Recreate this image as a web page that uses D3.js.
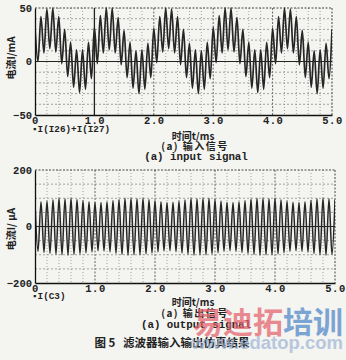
<!DOCTYPE html>
<html><head><meta charset="utf-8">
<script src="https://cdn.jsdelivr.net/npm/d3@7"></script>
<style>body{margin:0;background:#f4f4f1}svg{display:block}</style>
</head><body><svg id="c" width="346" height="360"></svg>
<script>
// ---- data ----
// extrema of the input signal every 0.05 ms (peak, trough, ...), t = 0 .. 5 ms
const inputValues = [
  32, 0, 42, 8, 49, 12, 50, 9, 42, -2, 30, -14, 18, -24, 11, -29, 11, -26, 18, -16,
  32, -2, 43, 8, 50, 11, 50, 8, 41, -3, 29, -15, 18, -25, 10, -30, 11, -26, 17, -15,
  31, -1, 42, 9, 50, 12, 49, 8, 42, -3, 30, -15, 17, -25, 11, -30, 10, -26, 18, -16,
  32, -1, 43, 8, 50, 11, 50, 9, 41, -2, 30, -14, 18, -25, 11, -29, 11, -26, 18, -15,
  31, -2, 42, 8, 50, 12, 49, 8, 42, -3, 29, -15, 18, -24, 10, -30, 11, -25, 17, -16,
  30
];
// extrema of the output signal every 0.05 ms
const outputValues = [
  84, -88, 88, -92, 90, -95, 95, -98, 100, -100, 98, -101, 100, -99, 96, -97, 92, -93, 88, -90,
  86, -86, 85, -87, 88, -90, 92, -95, 96, -99, 100, -101, 100, -100, 98, -100, 100, -97, 96, -94,
  92, -90, 88, -87, 85, -86, 86, -89, 90, -94, 95, -98, 100, -101, 98, -100, 100, -100, 100, -97,
  96, -93, 90, -88, 86, -86, 85, -88, 88, -92, 92, -96, 97, -99, 100, -101, 100, -100, 98, -100,
  100, -97, 95, -93, 90, -88, 86, -86, 85, -88, 88, -91, 93, -96, 98, -100, 100, -101, 98, -99,
  95
];
const sampleStep = 0.05;
const xTicks = [0, 1, 2, 3, 4, 5];
const xTickLabels = ["0", "1.0", "2.0", "3.0", "4.0", "5.0"];
const xMinor = [0.2,0.4,0.6,0.8,1.2,1.4,1.6,1.8,2.2,2.4,2.6,2.8,3.2,3.4,3.6,3.8,4.2,4.4,4.6,4.8];
const topYTicks = [-50, 0, 50];
const topYMinor = [-40,-30,-20,-10,10,20,30,40];
const botYTicks = [-200, 0, 200];
const botYMinor = [-150,-100,-50,50,100,150];

const svg = d3.select("#c");
const monoFont = "'Liberation Mono','DejaVu Sans Mono',monospace";
const cjkFont = "'Noto Sans CJK SC','Noto Sans CJK JP',sans-serif";

function panel(o) {
  const x = d3.scaleLinear().domain([0, 5]).range([o.x0, o.x1]);
  const y = d3.scaleLinear().domain(o.yDomain).range([o.yBot, o.yTop]);
  const g = svg.append("g");
  // minor verticals
  g.selectAll(null).data(xMinor).join("line")
    .attr("x1", d => x(d)).attr("x2", d => x(d)).attr("y1", o.yTop).attr("y2", o.yBot)
    .attr("stroke", "#8d8d8d").attr("stroke-width", 0.8).attr("stroke-dasharray", "1,2");
  // major verticals
  g.selectAll(null).data([1,2,3,4]).join("line")
    .attr("x1", d => x(d)).attr("x2", d => x(d)).attr("y1", o.yTop).attr("y2", o.yBot)
    .attr("stroke", d => (o.solidOne && d === 1) ? "#222" : "#555")
    .attr("stroke-width", d => (o.solidOne && d === 1) ? 1.3 : 0.9)
    .attr("stroke-dasharray", d => (o.solidOne && d === 1) ? null : "2,1.5");
  // minor horizontals
  g.selectAll(null).data(o.yMinor).join("line")
    .attr("x1", o.x0).attr("x2", o.x1).attr("y1", d => y(d)).attr("y2", d => y(d))
    .attr("stroke", "#8d8d8d").attr("stroke-width", 0.8).attr("stroke-dasharray", "2,2");
  // top & right borders dashed
  g.append("line").attr("x1", o.x0).attr("x2", o.x1).attr("y1", o.yTop).attr("y2", o.yTop)
    .attr("stroke", "#444").attr("stroke-width", 1).attr("stroke-dasharray", "2,1.5");
  g.append("line").attr("x1", o.x1).attr("x2", o.x1).attr("y1", o.yTop).attr("y2", o.yBot)
    .attr("stroke", "#444").attr("stroke-width", 1).attr("stroke-dasharray", "2,1.5");
  // zero line
  g.append("line").attr("x1", o.x0).attr("x2", o.x1).attr("y1", y(0)).attr("y2", y(0))
    .attr("stroke", "#222").attr("stroke-width", 1.1);

  // waveform
  const clipId = "clip" + o.id;
  svg.append("clipPath").attr("id", clipId).append("rect")
    .attr("x", o.x0).attr("y", o.yTop - 1).attr("width", o.x1 - o.x0).attr("height", o.yBot - o.yTop + 2);
  const line = d3.line().x((d, i) => x(i * sampleStep)).y(d => y(d)).curve(d3.curveMonotoneX);
  g.append("path").datum(o.values).attr("d", line).attr("fill", "none")
    .attr("stroke", "#262626").attr("stroke-width", o.lw).attr("clip-path", `url(#${clipId})`);

  // axes
  const ax = d3.axisBottom(x).tickValues(xTicks).tickSize(0).tickPadding(3)
    .tickFormat((d, i) => xTickLabels[i]);
  const axg = g.append("g").attr("transform", `translate(0,${o.yBot})`).call(ax);
  axg.select(".domain").attr("stroke", "#111").attr("stroke-width", 1.3);
  axg.selectAll("text").attr("font-family", monoFont).attr("font-weight", "bold")
    .attr("font-size", 10.5).attr("fill", "#222").attr("dy", "0.55em").attr("letter-spacing", "0.5px");
  const ay = d3.axisLeft(y).tickValues(o.yTicks).tickSize(0).tickPadding(3).tickFormat(d3.format("d"));
  const ayg = g.append("g").attr("transform", `translate(${o.x0},0)`).call(ay);
  ayg.select(".domain").attr("stroke", "#111").attr("stroke-width", 1.3);
  ayg.selectAll("text").attr("font-family", monoFont).attr("font-weight", "bold")
    .attr("font-size", 10.5).attr("fill", "#222");

  // y title
  g.append("text").attr("transform", `translate(${o.yTitleX},${o.yTitleY}) rotate(-90)`)
    .attr("text-anchor", "middle").attr("dominant-baseline", "middle")
    .attr("font-family", cjkFont).attr("font-weight", "bold").attr("font-size", 10).attr("fill", "#222")
    .text(o.yTitle);
  // legend
  g.append("text").attr("x", 32).attr("y", o.legendY).attr("dominant-baseline", "middle")
    .attr("font-family", monoFont).attr("font-weight", "bold").attr("font-size", 9.3)
    .attr("fill", "#222").text("▪" + o.legend);
  // x title
  g.append("text").attr("x", 193).attr("y", o.xTitleY).attr("text-anchor", "middle")
    .attr("dominant-baseline", "middle").attr("font-family", cjkFont).attr("font-weight", "bold")
    .attr("font-size", 10).attr("fill", "#222").text("时间t/ms");
  // sub captions
  g.append("text").attr("x", 195).attr("y", o.capY1).attr("text-anchor", "middle")
    .attr("dominant-baseline", "middle").attr("font-family", cjkFont).attr("font-weight", "bold")
    .attr("font-size", 10).attr("letter-spacing", "1.5px").attr("fill", "#222").text(o.cap1);
  g.append("text").attr("x", 196).attr("y", o.capY2).attr("text-anchor", "middle")
    .attr("dominant-baseline", "middle").attr("font-family", monoFont).attr("font-weight", "bold")
    .attr("font-size", 10.8).attr("fill", "#222").text(o.cap2);
}

panel({id: "a", x0: 35, x1: 332, yTop: 8, yBot: 115, yDomain: [-50, 50], yTicks: topYTicks,
  yMinor: topYMinor, values: inputValues, lw: 1.7, solidOne: true,
  yTitle: "电流I/mA", yTitleX: 12, yTitleY: 58, legend: "I(I26)+I(I27)", legendY: 130,
  xTitleY: 137, cap1: "(a) 输入信号", capY1: 147, cap2: "(a) input signal", capY2: 157});

panel({id: "b", x0: 35, x1: 335, yTop: 170, yBot: 283, yDomain: [-200, 200], yTicks: botYTicks,
  yMinor: botYMinor, values: outputValues, lw: 1.5, solidOne: false,
  yTitle: "电流I/ μA", yTitleX: 12, yTitleY: 229, legend: "I(C3)", legendY: 297,
  xTitleY: 303, cap1: "(a) 输出信号", capY1: 314, cap2: "(a) output signal", capY2: 325});

// figure caption
svg.append("text").attr("x", 172).attr("y", 344).attr("text-anchor", "middle")
  .attr("dominant-baseline", "middle").attr("font-family", cjkFont).attr("font-weight", "bold")
  .attr("font-size", 11.5).attr("fill", "#222").attr("xml:space", "preserve")
  .text("图 5   滤波器输入输出仿真结果");

// watermark
const wm = svg.append("g").attr("opacity", 0.72);
wm.append("text").attr("x", 343).attr("y", 344).attr("text-anchor", "end")
  .attr("dominant-baseline", "middle").attr("font-family", "'Liberation Sans',sans-serif")
  .attr("font-weight", "bold").attr("font-size", 18.5).attr("fill", "#9fb6d6").text("www.edatop.com");
const wt = wm.append("text").attr("x", 193).attr("y", 325).attr("dominant-baseline", "middle")
  .attr("font-family", cjkFont).attr("font-weight", "bold").attr("font-size", 30);
wt.append("tspan").attr("fill", "#e4606a").text("易迪拓");
wt.append("tspan").attr("fill", "#4d86c8").text("培训");
</script></body></html>
